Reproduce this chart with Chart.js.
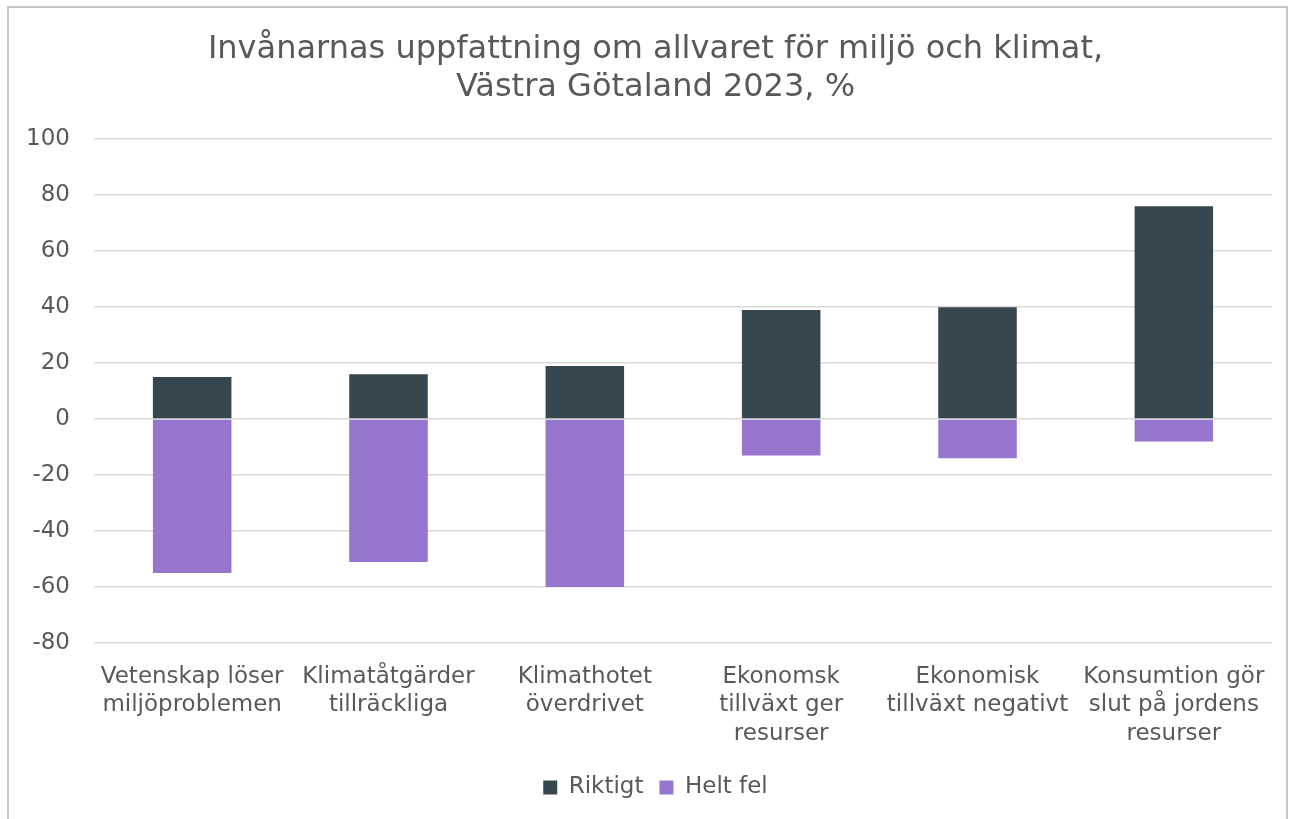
<!DOCTYPE html>
<html>
<head>
<meta charset="utf-8">
<script src="https://cdn.jsdelivr.net/npm/chart.js@4"></script>
<style>
  body { margin: 0; background: #fff; }
  #wrap { position: relative; width: 1291px; height: 819px; overflow: hidden; }
  #frame { position: absolute; left: 7px; top: 6px; width: 1277px; height: 900px;
           border: 2px solid #c6c6c6; pointer-events: none; }
  canvas { position: absolute; left: 0; top: 0; }
</style>
</head>
<body>
<div id="wrap">
  <!-- canvas a bit wider than the window; the spare strip on the right is hidden -->
  <canvas id="chart" width="1327" height="819"></canvas>
  <div id="frame"></div>
</div>
<script>
// Categories (multi-line labels)
const categories = [
    ['Vetenskap löser', 'miljöproblemen'],
    ['Klimatåtgärder', 'tillräckliga'],
    ['Klimathotet', 'överdrivet'],
    ['Ekonomsk', 'tillväxt ger', 'resurser'],
    ['Ekonomisk', 'tillväxt negativt'],
    ['Konsumtion gör', 'slut på jordens', 'resurser']
];

// Series values, %
const riktigt = [15, 16, 19, 39, 40, 76];
const heltFel = [-55, -51, -60, -13, -14, -8];

// Y axis ticks
const yMin = -80;
const yMax = 100;
const yStep = 20;

const textColor = '#595959';
const fontFamily = '"DejaVu Sans", Verdana, sans-serif';

const ctx = document.getElementById('chart').getContext('2d');
new Chart(ctx, {
    type: 'bar',
    data: {
        labels: categories,
        datasets: [
            {
                label: 'Riktigt',
                data: riktigt,
                backgroundColor: '#37474f',
                barPercentage: 0.4,
                categoryPercentage: 1.0
            },
            {
                label: 'Helt fel',
                data: heltFel,
                backgroundColor: '#9575cd',
                barPercentage: 0.4,
                categoryPercentage: 1.0
            }
        ]
    },
    options: {
        responsive: false,
        animation: false,
        layout: {
            padding: { left: 3, right: 19, top: 21, bottom: 10 }
        },
        plugins: {
            title: {
                display: true,
                text: ['Invånarnas uppfattning om allvaret för miljö och klimat,', 'Västra Götaland 2023, %'],
                color: textColor,
                font: { family: fontFamily, size: 32, weight: 'normal', lineHeight: 1.19 },
                padding: { top: 10, bottom: 32 }
            },
            legend: {
                position: 'bottom',
                labels: {
                    color: textColor,
                    font: { family: fontFamily, size: 23 },
                    boxWidth: 14,
                    boxHeight: 14,
                    padding: 16
                }
            },
            tooltip: { enabled: false }
        },
        scales: {
            x: {
                stacked: true,
                grid: { display: false },
                border: { display: false },
                ticks: {
                    color: textColor,
                    font: { family: fontFamily, size: 23, lineHeight: 1.26 },
                    maxRotation: 0,
                    autoSkip: false,
                    padding: 11
                }
            },
            y: {
                stacked: true,
                min: yMin,
                max: yMax,
                afterFit: (scale) => { scale.width = 91; },
                grid: { color: '#d9d9d9', lineWidth: 1.5, drawTicks: false },
                border: { display: false },
                ticks: {
                    stepSize: yStep,
                    color: textColor,
                    font: { family: fontFamily, size: 23 },
                    padding: 24
                }
            },
            // empty spacer on the right so title and legend sit a little right of centre
            spacer: {
                type: 'linear',
                position: 'right',
                afterFit: (scale) => { scale.width = 36; },
                grid: { display: false, drawOnChartArea: false },
                border: { display: false },
                ticks: { display: false }
            }
        }
    }
});
</script>
</body>
</html>
